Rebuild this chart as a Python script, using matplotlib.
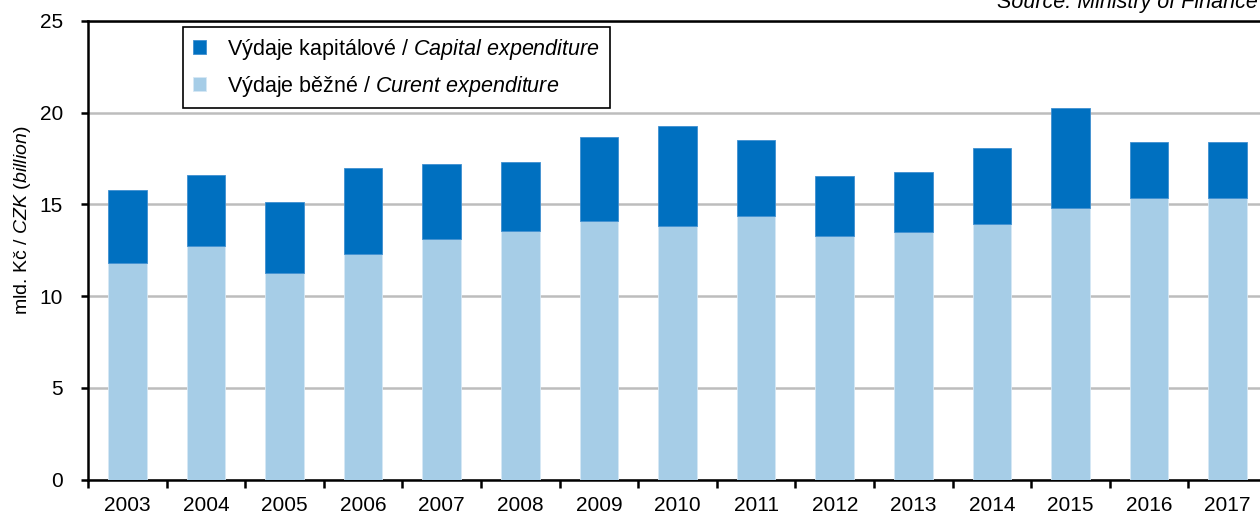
import numpy as np
import matplotlib
matplotlib.use('Agg')
from matplotlib import pyplot as plt

years = ['2003', '2004', '2005', '2006', '2007', '2008', '2009', '2010',
         '2011', '2012', '2013', '2014', '2015', '2016', '2017']
current = [11.83, 12.72, 11.28, 12.3, 13.12, 13.55, 14.08, 13.84,
           14.38, 13.3, 13.51, 13.95, 14.82, 15.36, 15.36]
total = [15.8, 16.58, 15.15, 17.0, 17.22, 17.33, 18.65, 19.28,
         18.51, 16.56, 16.78, 18.08, 20.25, 18.4, 18.4]
capital = [t - c for t, c in zip(total, current)]
yticks = [0, 5, 10, 15, 20, 25]

plt.rcParams['font.family'] = ['Liberation Sans', 'DejaVu Sans']
plt.rcParams['mathtext.fontset'] = 'custom'
plt.rcParams['mathtext.rm'] = 'Liberation Sans'
plt.rcParams['mathtext.it'] = 'Liberation Sans:italic'
plt.rcParams['font.size'] = 15

dark = '#0070C0'
light = '#A6CDE7'

fig = plt.figure(figsize=(12.6, 5.15), dpi=100)
ax = fig.add_axes([88/1260, 35.5/515, 1179/1260, 458.5/515])

x = np.arange(len(years))
b1 = ax.bar(x, current, width=0.49, color=light, edgecolor='#D6E8F5', linewidth=0.6, zorder=3)
b2 = ax.bar(x, capital, bottom=current, width=0.49, color=dark, edgecolor='#3F8FD0', linewidth=0.6, zorder=3)

ax.set_xlim(-0.5, len(years) - 0.5)
ax.set_ylim(0, 25)
ax.set_yticks(yticks)
ax.yaxis.grid(True, color='#BDBDBD', linewidth=1.8, zorder=0)
ax.set_axisbelow(True)

# year labels sit between the boundary ticks
ax.set_xticks(np.arange(len(years) + 1) - 0.5)
ax.set_xticklabels([])
ax.set_xticks(x, minor=True)
ax.set_xticklabels(years, minor=True)
ax.tick_params(axis='x', which='major', length=6, width=1.8, direction='out')
ax.tick_params(axis='x', which='minor', length=0, pad=12)
ax.tick_params(axis='y', length=5, width=1.8, pad=13)

for s in ['left', 'bottom', 'top']:
    ax.spines[s].set_linewidth(1.8)
ax.spines['right'].set_visible(False)

ax.set_ylabel('mld. Kč / $CZK\\ (billion)$', fontsize=14)
ax.yaxis.set_label_coords(-0.047, 0.566)

leg = ax.legend([b2, b1],
                ['Výdaje kapitálové / $Capital\\ expenditure$',
                 'Výdaje běžné / $Curent\\ expenditure$'],
                loc='upper left', bbox_to_anchor=(183/1260, 1 - 27/515),
                bbox_transform=fig.transFigure, fontsize=15.5,
                fancybox=False, framealpha=1, edgecolor='black',
                handlelength=0.6, handleheight=0.6, handletextpad=1.0,
                borderpad=0.45, labelspacing=0.55, borderaxespad=0)
leg.get_frame().set_linewidth(1.2)

fig.text(997/1260, 1 - 8/515, 'Source: Ministry of Finance', ha='left',
         va='baseline', style='italic', fontsize=15.5)

fig.savefig('out.png', dpi=100)
